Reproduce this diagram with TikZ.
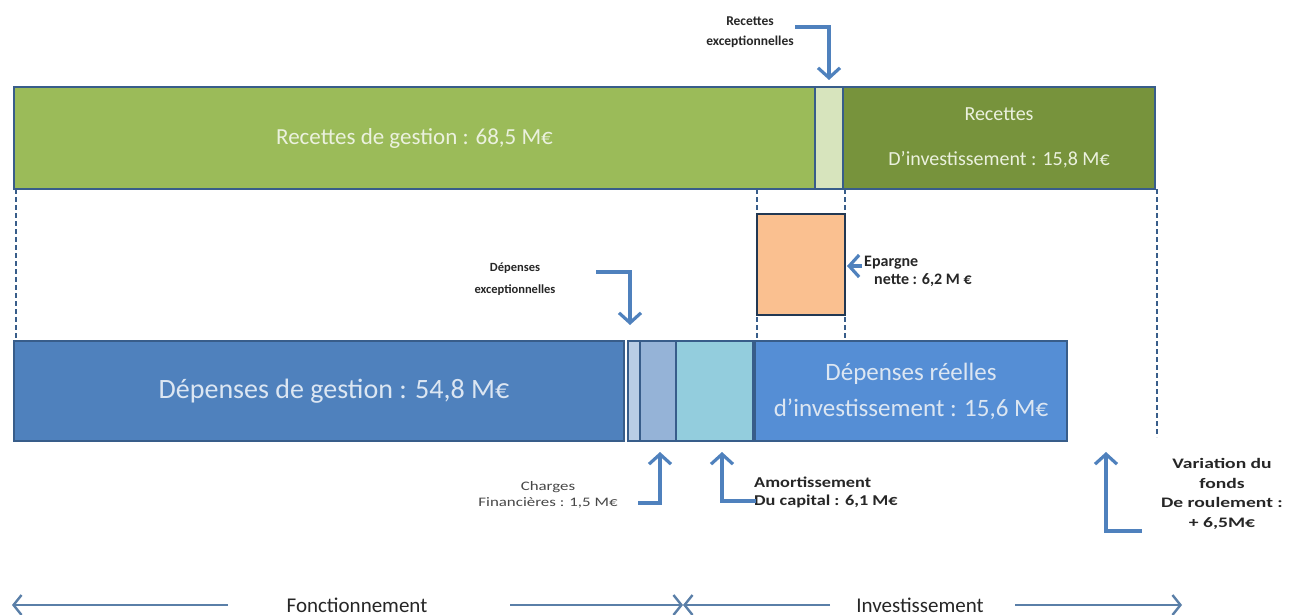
\documentclass[tikz,border=0pt]{standalone}
\usepackage{fontspec}
\setmainfont{Carlito}
\usetikzlibrary{arrows.meta}
\definecolor{gLight}{HTML}{9BBB59}
\definecolor{gDark}{HTML}{77933C}
\definecolor{gPale}{HTML}{D7E4BD}
\definecolor{bMain}{HTML}{4F81BD}
\definecolor{bInv}{HTML}{558ED5}
\definecolor{bPale}{HTML}{B9CDE5}
\definecolor{bMid}{HTML}{95B3D7}
\definecolor{bCyan}{HTML}{93CDDD}
\definecolor{orangeBox}{HTML}{FAC090}
\definecolor{edge}{HTML}{385D8A}
\definecolor{arrC}{HTML}{4F81BD}
\definecolor{botC}{HTML}{5A7FA8}
\definecolor{txtG}{HTML}{EBF1DE}
\definecolor{txtB}{HTML}{DCE6F2}
\definecolor{lbl}{HTML}{262626}
\newcommand{\widetxt}[2][1.3]{\scalebox{#1}[1]{#2}}
\begin{document}
\begin{tikzpicture}[x=1pt,y=-1pt,
  bar/.style={draw=edge, line width=2.2pt, inner sep=0pt, outer sep=0pt, anchor=north west},
  dashv/.style={draw=edge, line width=1.6pt, dash pattern=on 5pt off 3pt},
  arr/.style={draw=arrC, line width=3.2pt, -{Straight Barb[length=10pt,width=22pt]}},
  botarr/.style={draw=botC, line width=2.4pt, -{Straight Barb[length=8pt,width=20pt]}},
  bold/.style={font=\fontsize{13}{20}\selectfont\bfseries, text=lbl, inner sep=0pt},
]
\useasboundingbox (0,0) rectangle (1296,615);

% dashed guide lines
\draw[dashv] (16,189) -- (16,340);
\draw[dashv] (757,189) -- (757,340);
\draw[dashv] (845,189) -- (845,340);
\draw[dashv] (1157,189) -- (1157,437);

% top row
\node[bar, fill=gLight, minimum width=801pt, minimum height=102pt,
      font=\fontsize{23}{27}\selectfont, text=txtG] (rg) at (14,87) {Recettes de gestion : 68,5 M€};
\node[bar, fill=gPale, minimum width=28pt, minimum height=102pt] (rex) at (815,87) {};
\node[bar, fill=gDark, minimum width=312pt, minimum height=102pt, align=center,
      font=\fontsize{20}{22}\selectfont, text=txtG] (ri) at (843,87) {Recettes\\[23pt]D’investissement : 15,8 M€};

% epargne
\node[draw=edge!60!black, line width=1.5pt, fill=orangeBox, minimum width=88pt, minimum height=101pt,
      inner sep=0pt, outer sep=0pt, anchor=north west] (ep) at (757,214) {};

% bottom row
\node[bar, fill=bMain, minimum width=610pt, minimum height=100pt,
      font=\fontsize{28}{32}\selectfont, text=txtB] (dg) at (14,341) {\hspace*{30pt}Dépenses de gestion : 54,8 M€};
\node[bar, fill=bPale, minimum width=12pt, minimum height=100pt] (dex) at (628,341) {};
\node[bar, fill=bMid, minimum width=36pt, minimum height=100pt] (cf) at (640,341) {};
\node[bar, fill=bCyan, minimum width=77pt, minimum height=100pt] (am) at (676,341) {};
\node[bar, fill=bInv, minimum width=312pt, minimum height=100pt, align=center,
      font=\fontsize{25}{36}\selectfont, text=txtB] (dri) at (755,341) {Dépenses réelles\\d’investissement : 15,6 M€};

% labels
\node[bold, align=center, font=\fontsize{13.5}{20}\selectfont\bfseries] (lre) at (750,32) {Recettes\\exceptionnelles};
\node[bold, align=center, font=\fontsize{12.5}{22}\selectfont\bfseries] (lde) at (515,279) {Dépenses\\exceptionnelles};
\node[bold, align=left, anchor=north west, font=\fontsize{16}{18}\selectfont\bfseries] (lep) at (864,256) {Epargne\\\hspace*{10pt}nette : 6,2 M €};
\node[inner sep=0pt, align=center, text=lbl!85, font=\fontsize{13}{16}\selectfont] (lcf) at (548,495) {\widetxt{Charges}\\\widetxt{Financières : 1,5 M€}};
\node[bold, align=left, anchor=west, font=\fontsize{15}{18}\selectfont\bfseries] (lam) at (754,492) {\widetxt[1.22]{Amortissement}\\\widetxt[1.22]{Du capital : 6,1 M€}};
\node[bold, align=center, font=\fontsize{14.5}{19.5}\selectfont\bfseries] (lvf) at (1222,494) {\widetxt[1.35]{Variation du}\\\widetxt[1.35]{fonds}\\\widetxt[1.35]{De roulement :}\\\widetxt[1.35]{+ 6,5M€}};

% connectors
\coordinate (a1) at (795,27);
\coordinate (a1e) at (829,80);
\draw[arr] (a1) -| (a1e);
\coordinate (a2) at (862,266);
\draw[arr, shorten >=2pt] (a2) -- (ep.east |- a2);
\coordinate (a3) at (596,272);
\coordinate (a3e) at (630,325);
\draw[arr] (a3) -| (a3e);
\coordinate (a4) at (638,503);
\coordinate (a4e) at (660,452);
\draw[arr] (a4) -| (a4e);
\coordinate (a5) at (756,501);
\coordinate (a5e) at (722,452);
\draw[arr] (a5) -| (a5e);
\coordinate (a6) at (1142,531);
\coordinate (a6e) at (1106,452);
\draw[arr] (a6) -| (a6e);

% bottom axis
\node[inner sep=0pt, font=\fontsize{21}{24}\selectfont, text=lbl] (fonc) at (357,605) {Fonctionnement};
\node[inner sep=0pt, font=\fontsize{21}{24}\selectfont, text=lbl] (inv) at (920,605) {Investissement};
\coordinate (fL) at (12,605);
\coordinate (mid) at (683,605);
\coordinate (iR) at (1182,605);
\draw[botarr] (228,605) -- (fL);
\draw[botarr] (510,605) -- (mid);
\draw[botarr] (830,605) -- (mid);
\draw[botarr] (1015,605) -- (iR);
\end{tikzpicture}
\end{document}
